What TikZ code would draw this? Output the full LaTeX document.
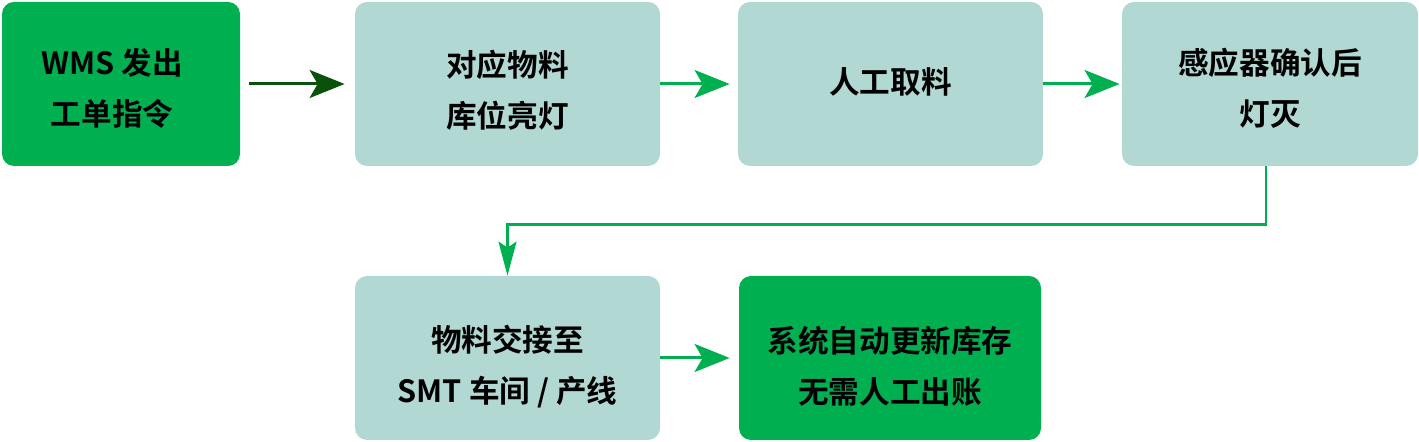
\documentclass[tikz,border=0pt]{standalone}
\usepackage{fontspec}
\setmainfont{Noto Sans CJK SC}[BoldFont={Noto Sans CJK SC Bold}]
\usetikzlibrary{arrows.meta}
\definecolor{boxgreen}{HTML}{00B050}
\definecolor{boxteal}{HTML}{B2D8D4}
\definecolor{darkarrow}{HTML}{0A520C}
% pushes a two-line text down inside its box
\newcommand\linedrop[1]{\rule{0pt}{\dimexpr16.2pt+#1\relax}}

\begin{document}
\begin{tikzpicture}[x=0.5pt,y=-0.5pt,
  stepbox/.style={fill=boxteal, rounded corners=6pt, inner sep=0pt,
    minimum height=82pt, align=center,
    font=\fontsize{15.3pt}{25.5pt}\selectfont\bfseries},
  keybox/.style={stepbox, fill=boxgreen},
  textlift/.style={execute at begin node={\rule[-\dimexpr1.9pt+#1\relax]{0pt}{0pt}}},
  flow/.style={line width=1.5pt, draw=boxgreen,
    -{Stealth[length=17.5pt, width=14pt, inset=4pt, fill=boxgreen]}},
  downflow/.style={line width=1.3pt, draw=boxgreen,
    -{Stealth[length=17pt, width=9pt, inset=3pt, fill=boxgreen]}}]
\useasboundingbox (0,0) rectangle (1419,442);
% upper row:
\node[keybox, minimum width=119pt] (order) at (121,84)
  {\linedrop{1.75pt}WMS 发出\hspace*{9pt}\\工单指令\hspace*{9pt}};
\node[stepbox, minimum width=152.5pt] (light) at (507.5,84) {\linedrop{3.5pt}对应物料\\库位亮灯};
\node[stepbox, textlift=1.75pt, minimum width=152.5pt] (pick) at (890.5,84) {人工取料};
\node[stepbox, minimum width=148pt] (sensor) at (1270,84) {\linedrop{1.5pt}感应器确认后\\灯灭};
% lower row:
\node[stepbox, minimum width=152.5pt] (handover) at (507.5,358) {\linedrop{6pt}物料交接至\\SMT 车间 / 产线};
\node[keybox, minimum width=151pt] (update) at (890,358) {\linedrop{5pt}系统自动更新库存\\无需人工出账};
% arrows:
\draw[line width=1.5pt, darkarrow,
  -{Stealth[length=17.5pt, width=14pt, inset=4pt]},
  shorten <=4.5pt, shorten >=5pt] (order) -- (light);
\draw[flow, shorten >=4pt] (light) -- (pick);
\draw[flow, shorten >=1pt] (pick) -- (sensor);
\draw[downflow] ([xshift=-2pt]sensor.south) -- ++(0,58) -| (handover.north);
\draw[flow, shorten >=4.5pt] (handover) -- (update);
\end{tikzpicture}
\end{document}
